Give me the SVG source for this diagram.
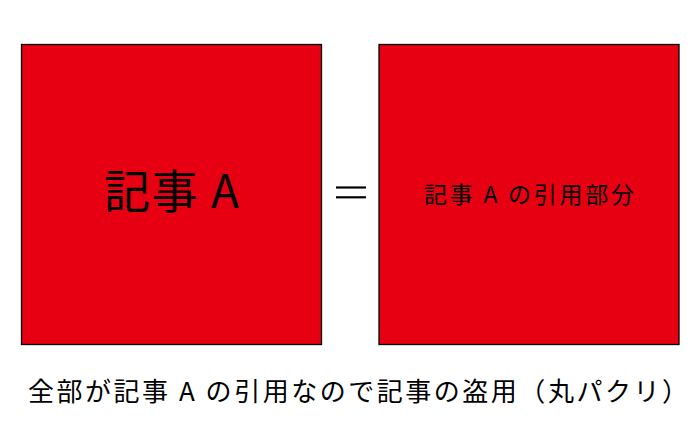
<svg xmlns="http://www.w3.org/2000/svg" width="700" height="446" viewBox="0 0 700 446">
<style>
.box{fill:#e60012;stroke:#000;stroke-width:1.3}
.t{font-family:"Noto Sans CJK JP","Noto Sans",sans-serif;fill:#000}
.eq{stroke:#000;stroke-width:2.2}
</style>
<rect width="700" height="446" fill="#fff"/>
<g id="articleA">
<rect class="box" x="21.5" y="44.5" width="300" height="300"/>
<text class="t" x="104" y="208" font-size="46" textLength="135" lengthAdjust="spacing">記事 A</text>
</g>
<g id="quotedPart">
<rect class="box" x="379" y="44.5" width="300" height="300"/>
<text class="t" x="424" y="203" font-size="23" textLength="210" lengthAdjust="spacing">記事 A の引用部分</text>
</g>
<g id="connectors">
<line class="eq" x1="336" y1="187.5" x2="366" y2="187.5"/>
<line class="eq" x1="336" y1="197.3" x2="366" y2="197.3"/>
</g>
<g id="caption">
<text class="t" x="28" y="401" font-size="26" textLength="660" lengthAdjust="spacing">全部が記事 A の引用なので記事の盗用（丸パクリ）</text>
</g>
</svg>
